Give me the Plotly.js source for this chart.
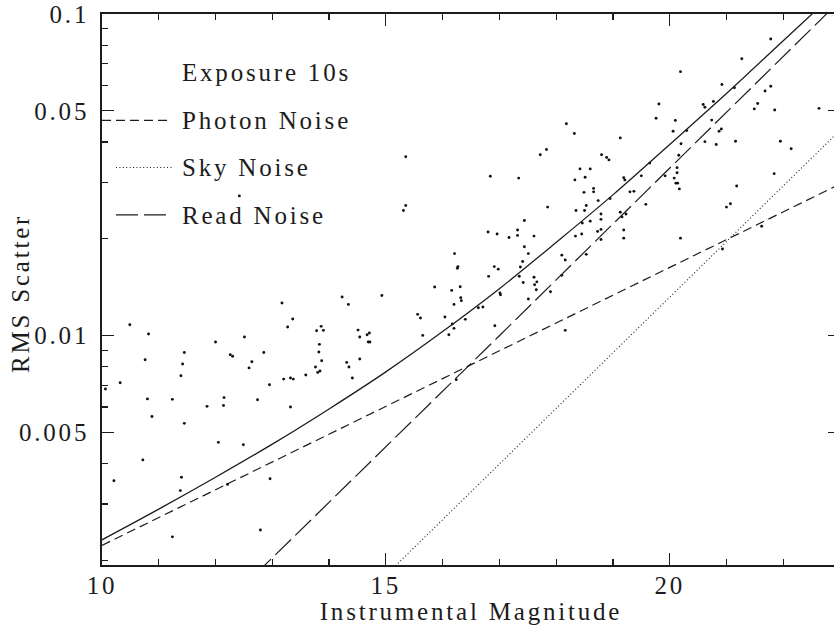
<!DOCTYPE html>
<html>
<head>
<meta charset="utf-8">
<script src="https://cdn.plot.ly/plotly-3.0.1.min.js"></script>
<style>
html,body{margin:0;padding:0;overflow:hidden;background:#fff;}
#chart{width:842px;height:625px;}
svg text{letter-spacing:2.8px;}
</style>
</head>
<body>
<div id="chart"></div>
<script>
// ---- measured stars: instrumental magnitude vs RMS scatter ----
const starMag = [
10.06,10.21,10.32,10.49,10.72,10.76,10.80,10.82,10.88,11.24,
11.24,11.38,11.39,11.40,11.42,11.45,11.45,11.85,12.00,12.05,
12.14,12.15,12.21,12.26,12.30,12.42,12.49,12.51,12.59,12.64,
12.74,12.79,12.85,12.95,12.96,13.17,13.20,13.27,13.32,13.32,
13.36,13.37,13.59,13.76,13.78,13.80,13.83,13.82,13.84,13.86,
13.87,13.90,14.23,14.31,14.34,14.35,14.41,14.51,14.54,14.54,
14.67,14.71,14.69,14.72,14.93,15.31,15.35,15.35,15.56,15.61,
15.65,15.86,16.04,16.11,16.16,16.17,16.20,16.20,16.21,16.24,
16.26,16.27,16.31,16.32,16.33,16.40,16.63,16.71,16.80,16.81,
16.84,16.91,16.92,16.96,16.98,17.01,17.02,17.17,17.32,17.32,
17.34,17.35,17.37,17.41,17.42,17.44,17.44,17.51,17.51,17.61,
17.61,17.62,17.66,17.65,17.72,17.83,17.85,17.90,18.10,18.16,
18.10,18.16,18.18,18.32,18.33,18.35,18.34,18.42,18.45,18.46,
18.49,18.50,18.51,18.53,18.53,18.60,18.60,18.66,18.66,18.73,
18.74,18.79,18.79,18.79,18.79,18.80,18.89,18.93,18.95,19.13,
19.13,19.16,19.23,19.19,19.21,19.19,19.19,19.30,19.37,19.50,
19.58,19.65,19.76,19.81,19.92,20.06,20.10,20.08,20.11,20.14,
20.13,20.13,20.16,20.17,20.19,20.19,20.20,20.30,20.59,20.62,
20.62,20.74,20.77,20.82,20.87,20.91,20.92,20.93,21.00,21.07,
21.14,21.16,21.18,21.27,21.49,21.55,21.62,21.68,21.78,21.78,
21.85,21.84,21.95,22.14,22.63
];
const starRms = [
0.00683,0.00354,0.00714,0.01082,0.00411,0.00842,0.00636,0.01012,0.00561,0.00634,
0.00237,0.00330,0.00751,0.00363,0.00817,0.00887,0.00534,0.00603,0.00956,0.00466,
0.00607,0.00642,0.00345,0.00873,0.00863,0.0272,0.00458,0.00991,0.00794,0.00830,
0.00632,0.00249,0.00887,0.00704,0.00359,0.01264,0.00733,0.01064,0.00739,0.00600,
0.01127,0.00733,0.00755,0.00799,0.01036,0.00769,0.00940,0.00890,0.00777,0.01069,
0.00836,0.01039,0.01319,0.00826,0.01251,0.00799,0.00739,0.01041,0.00991,0.00846,
0.01007,0.01020,0.00956,0.00956,0.01334,0.0245,0.0254,0.0360,0.01165,0.01135,
0.01002,0.01417,0.01143,0.01007,0.01383,0.01087,0.01054,0.01251,0.0180,0.00730,
0.0162,0.0164,0.0142,0.01313,0.01285,0.01124,0.01222,0.01228,0.0210,0.01529,
0.0313,0.0164,0.01074,0.0207,0.0161,0.01357,0.01341,0.0202,0.0213,0.0205,
0.0309,0.0153,0.01635,0.0170,0.01464,0.0228,0.0189,0.0180,0.0130,0.0204,
0.0152,0.0144,0.0147,0.0139,0.0365,0.0379,0.0251,0.0137,0.0178,0.0172,
0.0154,0.01039,0.0456,0.0425,0.0305,0.0245,0.0204,0.0330,0.0207,0.0224,
0.0279,0.0245,0.0311,0.0254,0.0179,0.0330,0.0227,0.0287,0.0280,0.0211,
0.0263,0.0239,0.0230,0.0214,0.0199,0.0365,0.0358,0.0352,0.0267,0.0412,
0.0242,0.0234,0.0239,0.0310,0.0305,0.0213,0.0201,0.0280,0.0281,0.0314,
0.0256,0.0344,0.0474,0.0525,0.0314,0.0432,0.0467,0.0309,0.0298,0.0298,
0.0333,0.0321,0.0364,0.0286,0.0662,0.0201,0.0395,0.0434,0.0523,0.0513,
0.0401,0.0468,0.0535,0.0393,0.0432,0.0439,0.0604,0.0186,0.0251,0.0257,
0.0590,0.0402,0.0292,0.0726,0.0507,0.0527,0.0219,0.0576,0.0596,0.0836,
0.0503,0.0319,0.0402,0.0381,0.0509
];

// ---- model noise curves ----
const totalMag   = [10.0, 11.0, 12.0, 13.0, 14.0, 15.0, 16.0, 17.0, 18.0, 19.0, 20.0, 21.0, 22.0, 22.55];
const totalNoise = [0.00232, 0.00289, 0.00363, 0.00460, 0.00592, 0.00772, 0.0103, 0.0140, 0.0195, 0.0274, 0.0393, 0.0566, 0.0826, 0.1016];
const photonMag   = [10.0, 14.0, 18.0, 23.0];
const photonNoise = [0.00223, 0.00494, 0.01094, 0.0296];
const skyMag   = [15.0, 19.0, 23.0];
const skyNoise = [0.00180, 0.00885, 0.0435];
const readMag   = [12.7, 17.0, 22.8];
const readNoise = [0.00181, 0.0100, 0.1016];

// ---- axes ----
const xTickVals = [10, 15, 20];
const xTickText = ['10', '15', '20'];
const xMinorVals = [11, 12, 13, 14, 16, 17, 18, 19, 21, 22];
const yTickVals = [0.005, 0.01, 0.05, 0.1];
const yTickText = ['0.005', '0.01', '0.05', '0.1'];
const yMinorVals = [0.002, 0.003, 0.004, 0.006, 0.007, 0.008, 0.009, 0.02, 0.03, 0.04, 0.06, 0.07, 0.08, 0.09];

const xTitle = 'Instrumental Magnitude';
const yTitle = 'RMS Scatter';
const legendTitle = 'Exposure 10s';
const legendLabels = ['Photon Noise', 'Sky Noise', 'Read Noise'];

const INK = '#1c1c1c';
const FONT = '"Liberation Serif", "Times New Roman", serif';
const TXT = {family: FONT, size: 25, color: INK};

const traces = [
  {x: starMag, y: starRms, type: 'scatter', mode: 'markers',
   marker: {size: 2.9, color: '#111'}, hoverinfo: 'skip'},
  {x: totalMag, y: totalNoise, type: 'scatter', mode: 'lines',
   line: {color: INK, width: 1.3, shape: 'spline', smoothing: 1}},
  {x: photonMag, y: photonNoise, type: 'scatter', mode: 'lines',
   line: {color: INK, width: 1.2, dash: '9px,5px'}},
  {x: skyMag, y: skyNoise, type: 'scatter', mode: 'lines',
   line: {color: INK, width: 1.1, dash: '1px,2.4px'}},
  {x: readMag, y: readNoise, type: 'scatter', mode: 'lines',
   line: {color: INK, width: 1.2, dash: '22px,6px'}}
];

const axisCommon = {
  ticks: 'inside', ticklen: 12, tickwidth: 1.2, tickcolor: INK,
  showline: true, linewidth: 1.8, linecolor: INK, mirror: 'allticks',
  showgrid: false, zeroline: false, fixedrange: true,
  tickfont: TXT
};

const layout = {
  width: 842, height: 625,
  margin: {l: 102, r: 2, t: 14, b: 60},
  paper_bgcolor: '#ffffff', plot_bgcolor: '#ffffff',
  showlegend: false,
  font: TXT,
  xaxis: Object.assign({}, axisCommon, {
    range: [10, 23], tickmode: 'array', tickvals: xTickVals, ticktext: xTickText,
    minor: {tickmode: 'array', tickvals: xMinorVals, ticks: 'inside', ticklen: 6, tickwidth: 1.2, tickcolor: INK, showgrid: false},
    ticklabelstandoff: -3,
    title: {text: xTitle, standoff: 8, font: TXT}
  }),
  yaxis: Object.assign({}, axisCommon, {
    type: 'log', range: [-2.7128, -1], tickmode: 'array', tickvals: yTickVals, ticktext: yTickText,
    minor: {tickmode: 'array', tickvals: yMinorVals, ticks: 'inside', ticklen: 6, tickwidth: 1.2, tickcolor: INK, showgrid: false},
    ticklabelstandoff: 6
  }),
  annotations: [
    {xref: 'paper', yref: 'paper', x: -0.1111, y: 0.4918, xanchor: 'center', yanchor: 'middle', textangle: -90, showarrow: false, text: yTitle, font: TXT},
    {xref: 'paper', yref: 'paper', x: 0.1057, y: 0.893, xanchor: 'left', yanchor: 'middle', showarrow: false, text: legendTitle, font: TXT},
    {xref: 'paper', yref: 'paper', x: 0.1057, y: 0.8072, xanchor: 'left', yanchor: 'middle', showarrow: false, text: legendLabels[0], font: TXT},
    {xref: 'paper', yref: 'paper', x: 0.1057, y: 0.7219, xanchor: 'left', yanchor: 'middle', showarrow: false, text: legendLabels[1], font: TXT},
    {xref: 'paper', yref: 'paper', x: 0.1057, y: 0.6346, xanchor: 'left', yanchor: 'middle', showarrow: false, text: legendLabels[2], font: TXT}
  ],
  shapes: [
    {type: 'line', xref: 'paper', yref: 'paper', x0: 0.0, x1: 0.0949, y0: 0.8069, y1: 0.8069, line: {color: INK, width: 1.2, dash: '9px,5px'}},
    {type: 'line', xref: 'paper', yref: 'paper', x0: 0.019, x1: 0.0949, y0: 0.7215, y1: 0.7215, line: {color: INK, width: 1.1, dash: '1px,2.4px'}},
    {type: 'line', xref: 'paper', yref: 'paper', x0: 0.019, x1: 0.0881, y0: 0.6356, y1: 0.6356, line: {color: INK, width: 1.2, dash: '22px,6px'}}
  ]
};

Plotly.newPlot('chart', traces, layout, {staticPlot: true, displayModeBar: false});
</script>
</body>
</html>
